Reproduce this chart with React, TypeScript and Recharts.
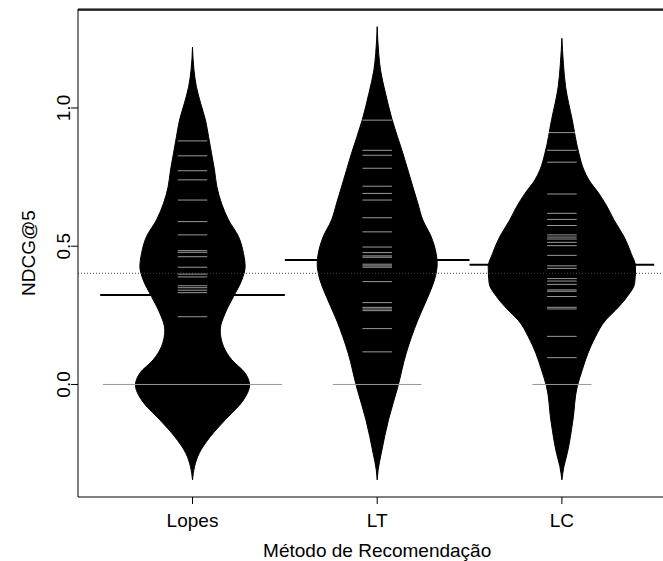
import React from 'react';
import { ComposedChart, Area, XAxis, YAxis, ReferenceLine } from 'recharts';

const FONT = '"Liberation Sans", Arial, Helvetica, sans-serif';

const categories = ['Lopes', 'LT', 'LC'];
const yTicks = [0, 0.5, 1.0];

// Bean outlines: NDCG@5 levels and the bean half-width (x-axis units) at each level
const lopesLevels = [1.220, 1.137, 1.077, 1.017, 0.957, 0.896, 0.836, 0.776, 0.715, 0.655, 0.595, 0.535, 0.474, 0.426, 0.378, 0.318, 0.258, 0.197, 0.137, 0.089, 0.041, -0.002, -0.056, -0.128, -0.189, -0.249, -0.297, -0.345];
const lopesHalfWidth = [0, 0.008, 0.021, 0.044, 0.070, 0.087, 0.103, 0.119, 0.132, 0.157, 0.195, 0.249, 0.276, 0.285, 0.267, 0.222, 0.177, 0.150, 0.168, 0.213, 0.285, 0.309, 0.276, 0.177, 0.096, 0.036, 0.011, 0];

const ltLevels = [1.294, 1.198, 1.137, 1.053, 0.957, 0.836, 0.776, 0.715, 0.655, 0.595, 0.535, 0.474, 0.438, 0.378, 0.330, 0.233, 0.113, -0.008, -0.128, -0.249, -0.309, -0.345];
const ltHalfWidth = [0, 0.008, 0.018, 0.045, 0.081, 0.139, 0.166, 0.193, 0.220, 0.247, 0.292, 0.319, 0.325, 0.310, 0.283, 0.220, 0.157, 0.112, 0.061, 0.022, 0.005, 0];

const lcLevels = [1.252, 1.162, 1.077, 0.957, 0.836, 0.776, 0.740, 0.691, 0.643, 0.595, 0.535, 0.474, 0.426, 0.366, 0.318, 0.269, 0.233, 0.173, 0.113, 0.052, -0.008, -0.128, -0.249, -0.297, -0.345];
const lcHalfWidth = [0, 0.008, 0.020, 0.056, 0.092, 0.119, 0.146, 0.200, 0.245, 0.282, 0.336, 0.375, 0.399, 0.394, 0.354, 0.291, 0.237, 0.182, 0.141, 0.110, 0.083, 0.060, 0.029, 0.011, 0];

// Individual observations (bean lines)
const lopesValues = [0.881, 0.827, 0.773, 0.740, 0.667, 0.589, 0.541, 0.484, 0.478, 0.462, 0.424, 0.399, 0.389, 0.357, 0.350, 0.341, 0.332, 0.245, 0, 0, 0, 0, 0, 0, 0, 0, 0, 0];
const ltValues = [0.956, 0.847, 0.829, 0.782, 0.717, 0.691, 0.667, 0.603, 0.552, 0.497, 0.477, 0.465, 0.460, 0.435, 0.429, 0.424, 0.372, 0.296, 0.279, 0.273, 0.267, 0.202, 0.118, 0, 0, 0];
const lcValues = [0.911, 0.847, 0.804, 0.689, 0.619, 0.597, 0.575, 0.541, 0.533, 0.526, 0.514, 0.502, 0.467, 0.429, 0.420, 0.383, 0.374, 0.362, 0.342, 0.337, 0.318, 0.279, 0.273, 0.174, 0.097, 0, 0];

// Bean averages and overall average
const groupMeans = [0.324, 0.450, 0.433];
const overallMean = 0.402;

const X_DOMAIN: [number, number] = [0.38, 3.62];
const Y_DOMAIN: [number, number] = [-0.407, 1.358];
const LINE_HALF = 0.08;
const LINE_MAX_HALF = 0.485;

const beans = [
  { levels: lopesLevels, widths: lopesHalfWidth, values: lopesValues },
  { levels: ltLevels, widths: ltHalfWidth, values: ltValues },
  { levels: lcLevels, widths: lcHalfWidth, values: lcValues },
].map((b, i) => {
  const center = i + 1;
  const rows = b.levels
    .map((v, k) => ({ v, lo: center - b.widths[k], hi: center + b.widths[k] }))
    .sort((a, c) => a.v - c.v);
  const counts = new Map<number, number>();
  b.values.forEach((v) => counts.set(v, (counts.get(v) || 0) + 1));
  const lines = Array.from(counts.entries()).map(([v, n]) => ({
    v,
    n,
    half: Math.min(n * LINE_HALF, LINE_MAX_HALF),
  }));
  return { center, rows, lines };
});

const YTick = (props: any) => {
  const { x, y, payload } = props;
  return (
    <text
      x={x}
      y={y}
      transform={`rotate(-90 ${x} ${y})`}
      textAnchor="middle"
      fontSize={19}
      fontFamily={FONT}
      fill="#000"
    >
      {Number(payload.value).toFixed(1)}
    </text>
  );
};

const XTick = (props: any) => {
  const { x, y, payload } = props;
  return (
    <text x={x} y={y + 23} textAnchor="middle" fontSize={19} fontFamily={FONT} fill="#000">
      {categories[Math.round(payload.value) - 1]}
    </text>
  );
};

const YLabel = (props: any) => {
  const vb = props.viewBox || { x: 0, y: 9, width: 78, height: 488 };
  const cx = 35;
  const cy = vb.y + vb.height / 2;
  return (
    <text x={cx} y={cy} transform={`rotate(-90 ${cx} ${cy})`} textAnchor="middle" fontSize={19} fontFamily={FONT} fill="#000">
      NDCG@5
    </text>
  );
};

const XLabel = (props: any) => {
  const vb = props.viewBox || { x: 78, y: 497, width: 598.4, height: 64 };
  return (
    <text x={vb.x + vb.width / 2} y={557} textAnchor="middle" fontSize={19} fontFamily={FONT} fill="#000">
      Método de Recomendação
    </text>
  );
};

export default function App() {
  return (
    <div style={{ position: 'fixed', left: 0, top: 0, width: 663, height: 561, overflow: 'hidden', background: '#fff' }}>
      <ComposedChart width={700} height={561} layout="vertical" margin={{ top: 8, right: 23.6, bottom: 0, left: 0 }}>
        <XAxis
          type="number"
          domain={X_DOMAIN}
          allowDataOverflow
          ticks={[1, 2, 3]}
          interval={0}
          axisLine={{ stroke: '#000' }}
          tickSize={7}
          tickMargin={0}
          tickLine={{ stroke: '#000' }}
          tick={<XTick />}
          height={64}
          label={{ content: <XLabel /> } as any}
        />
        <XAxis
          xAxisId="top"
          orientation="top"
          type="number"
          domain={X_DOMAIN}
          allowDataOverflow
          height={1}
          ticks={[1, 2, 3]}
          tick={false}
          tickLine={false}
          axisLine={{ stroke: '#000' }}
        />
        <YAxis
          type="number"
          dataKey="v"
          domain={Y_DOMAIN}
          allowDataOverflow
          reversed
          ticks={yTicks}
          interval={0}
          width={78}
          axisLine={{ stroke: '#000' }}
          tickSize={7}
          tickMargin={1}
          tickLine={{ stroke: '#000' }}
          tick={<YTick />}
          label={{ content: <YLabel /> } as any}
        />
        <ReferenceLine
          y={1.354}
          stroke="#000"
          strokeWidth={1.5}
          {...({ zIndex: 1600 } as any)}
        />
        <ReferenceLine y={overallMean} stroke="#444" strokeDasharray="1 2" strokeWidth={1} />
        {beans.map((b, i) => (
          <Area
            key={`bean-${i}`}
            data={b.rows}
            dataKey={(d: any) => [d.lo, d.hi]}
            type="monotone"
            fill="#000"
            fillOpacity={1}
            stroke="#000"
            strokeWidth={1}
            dot={false}
            activeDot={false}
            isAnimationActive={false}
          />
        ))}
        {beans.map((b, i) =>
          b.lines.map((l, k) => (
            <ReferenceLine
              key={`bl-${i}-${k}`}
              segment={[
                { x: b.center - l.half, y: l.v },
                { x: b.center + l.half, y: l.v },
              ]}
              stroke={l.n > 1 ? '#999' : '#fff'}
              strokeOpacity={l.n > 1 ? 1 : 0.6}
              strokeWidth={1}
              {...({ zIndex: 1500 } as any)}
            />
          ))
        )}
        {beans.map((b, i) => (
          <ReferenceLine
            key={`mean-${i}`}
            segment={[
              { x: b.center - 0.5, y: groupMeans[i] },
              { x: b.center + 0.5, y: groupMeans[i] },
            ]}
            stroke="#000"
            strokeWidth={2}
          />
        ))}
      </ComposedChart>
    </div>
  );
}
